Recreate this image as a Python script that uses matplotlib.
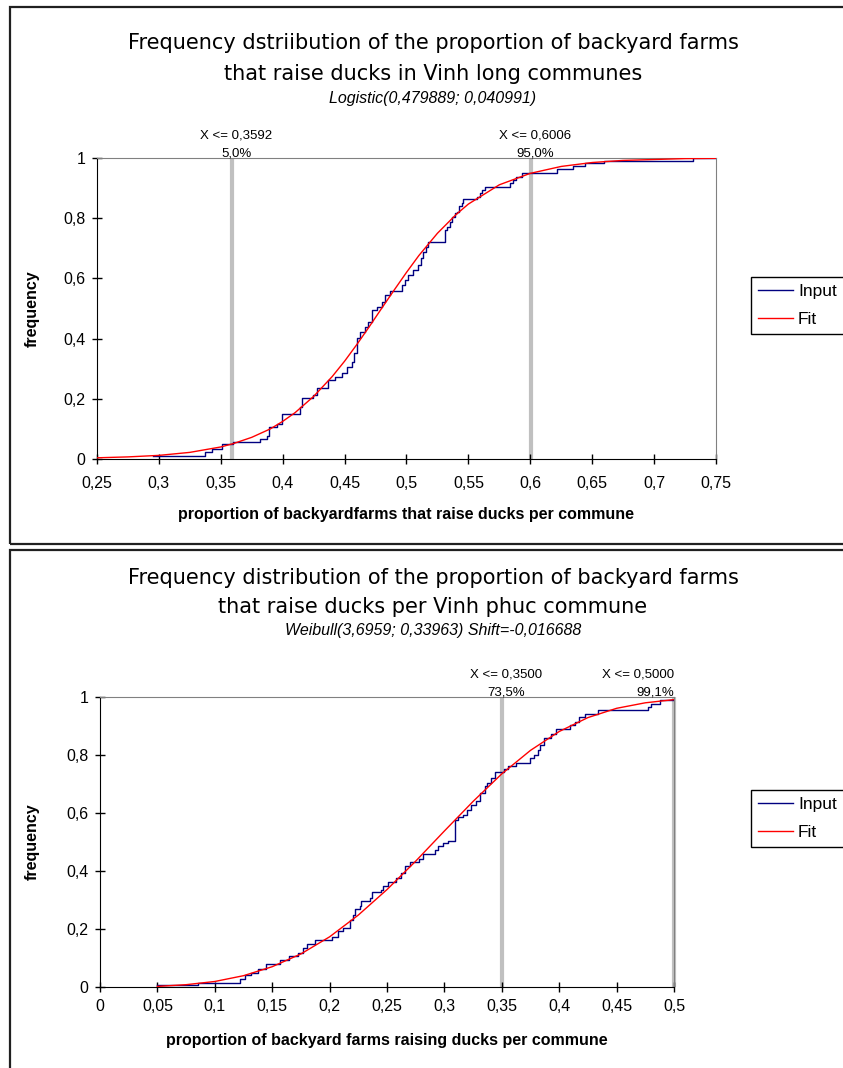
import matplotlib.pyplot as plt
from matplotlib.ticker import FuncFormatter, MultipleLocator
from matplotlib.patches import Rectangle

plt.rcParams['font.family'] = ['Liberation Sans', 'DejaVu Sans']

# ---- Vinh long: input ECDF (x where the step happens, y after the step)
vl_input_x = [0.2955, 0.3372, 0.3426, 0.3507, 0.3601, 0.3817, 0.3871, 0.3890, 0.3952, 0.3992,
              0.4140, 0.4153, 0.4247, 0.4274, 0.4368, 0.4422, 0.4477, 0.4517, 0.4557, 0.4576,
              0.4598, 0.4624, 0.4665, 0.4691, 0.4719, 0.4759, 0.4800, 0.4826, 0.4867, 0.4961,
              0.4988, 0.5015, 0.5055, 0.5095, 0.5115, 0.5136, 0.5158, 0.5176, 0.5311, 0.5325,
              0.5351, 0.5365, 0.5392, 0.5405, 0.5424, 0.5446, 0.5459, 0.5572, 0.5594, 0.5607,
              0.5634, 0.5836, 0.5863, 0.5884, 0.5931, 0.6213, 0.6348, 0.6442, 0.6595, 0.7317,
              0.7500]
vl_input_y = [0.010, 0.024, 0.033, 0.049, 0.057, 0.066, 0.077, 0.107, 0.116, 0.150,
              0.174, 0.204, 0.213, 0.237, 0.262, 0.273, 0.285, 0.307, 0.321, 0.351,
              0.401, 0.423, 0.440, 0.456, 0.495, 0.506, 0.523, 0.545, 0.559, 0.578,
              0.595, 0.611, 0.628, 0.645, 0.667, 0.689, 0.705, 0.722, 0.761, 0.772,
              0.788, 0.805, 0.816, 0.822, 0.839, 0.849, 0.863, 0.871, 0.883, 0.894,
              0.905, 0.916, 0.927, 0.938, 0.949, 0.963, 0.973, 0.984, 0.989, 1.000,
              1.000]
# fitted Logistic curve
vl_fit_x = [0.25, 0.275, 0.30, 0.325, 0.35, 0.36, 0.375, 0.39, 0.40, 0.41, 0.425, 0.44,
            0.45, 0.46, 0.47, 0.48, 0.49, 0.50, 0.51, 0.525, 0.54, 0.55, 0.575, 0.60,
            0.625, 0.65, 0.675, 0.70, 0.725, 0.75]
vl_fit_y = [0.004, 0.007, 0.012, 0.022, 0.040, 0.051, 0.072, 0.100, 0.125, 0.154, 0.208, 0.274,
            0.325, 0.381, 0.440, 0.501, 0.561, 0.620, 0.676, 0.750, 0.812, 0.847, 0.911, 0.949,
            0.972, 0.985, 0.992, 0.995, 0.998, 0.999]
vl_quant_x = [0.3592, 0.6006]
vl_quant_lbl = ['X <= 0,3592', 'X <= 0,6006']
vl_quant_pct = ['5,0%', '95,0%']

# ---- Vinh phuc
vp_input_x = [0.0500, 0.0855, 0.1223, 0.1260, 0.1319, 0.1376, 0.1443, 0.1565, 0.1646, 0.1725,
              0.1768, 0.1803, 0.1870, 0.2024, 0.2073, 0.2117, 0.2175, 0.2204, 0.2219, 0.2262,
              0.2277, 0.2349, 0.2373, 0.2451, 0.2465, 0.2509, 0.2582, 0.2625, 0.2654, 0.2698,
              0.2779, 0.2814, 0.2915, 0.2944, 0.2988, 0.3031, 0.3090, 0.3119, 0.3160, 0.3197,
              0.3235, 0.3279, 0.3307, 0.3351, 0.3371, 0.3409, 0.3438, 0.3517, 0.3554, 0.3627,
              0.3749, 0.3778, 0.3815, 0.3836, 0.3865, 0.3932, 0.3970, 0.4091, 0.4135, 0.4172,
              0.4222, 0.4338, 0.4774, 0.4803, 0.4876, 0.5000]
vp_input_y = [0.008, 0.014, 0.028, 0.041, 0.048, 0.062, 0.079, 0.094, 0.106, 0.117,
              0.134, 0.149, 0.161, 0.174, 0.192, 0.203, 0.232, 0.249, 0.269, 0.280,
              0.295, 0.307, 0.326, 0.333, 0.349, 0.361, 0.376, 0.393, 0.416, 0.430,
              0.441, 0.459, 0.473, 0.485, 0.497, 0.502, 0.577, 0.585, 0.594, 0.611,
              0.629, 0.640, 0.669, 0.692, 0.703, 0.721, 0.743, 0.752, 0.763, 0.774,
              0.789, 0.801, 0.818, 0.835, 0.858, 0.873, 0.889, 0.904, 0.915, 0.932,
              0.942, 0.956, 0.967, 0.976, 0.988, 0.990]
# fitted Weibull curve
vp_fit_x = [0.05, 0.075, 0.10, 0.125, 0.15, 0.175, 0.20, 0.225, 0.25, 0.275, 0.30, 0.325,
            0.35, 0.375, 0.40, 0.425, 0.45, 0.475, 0.50]
vp_fit_y = [0.002, 0.008, 0.019, 0.039, 0.070, 0.114, 0.173, 0.248, 0.336, 0.434, 0.538, 0.640,
            0.735, 0.816, 0.881, 0.929, 0.961, 0.980, 0.991]
vp_quant_x = [0.35, 0.50]
vp_quant_lbl = ['X <= 0,3500', 'X <= 0,5000']
vp_quant_pct = ['73,5%', '99,1%']

W, H = 843, 1068
fig = plt.figure(figsize=(W / 100, H / 100), dpi=100)


def fx(x):
    return x / W


def fy(y):
    return 1 - y / H


def comma(v, pos):
    return ('%g' % round(v, 4)).replace('.', ',')


def panel(box, xin, yin, xfit, yfit, qx, qlbl, qpct, qha, xlim, xlabel,
          titles, title_y, leg_y, xpad, xlab_y):
    left, top, right, bottom = box
    ax = fig.add_axes([fx(left), fy(bottom), fx(right - left), (bottom - top) / H])

    # percentile markers
    for q, lbl, pct, ha in zip(qx, qlbl, qpct, qha):
        ax.plot([q, q], [0, 1], color='#c0c0c0', lw=3, zorder=1, solid_capstyle='butt', clip_on=False)
        dx = 3 if ha == 'center' else 0
        ax.annotate(lbl, (q, 1), xytext=(dx, 16.5), textcoords='offset points',
                    ha=ha, va='center', fontsize=9.5)
        ax.annotate(pct, (q, 1), xytext=(dx, 3.5), textcoords='offset points',
                    ha=ha, va='center', fontsize=9.5)

    h1, = ax.plot(xin, yin, drawstyle='steps-post', color='#000080', lw=1, zorder=3, label='Input')
    h2, = ax.plot(xfit, yfit, color='#ff0000', lw=1, zorder=4, label='Fit')

    ax.set_xlim(xlim)
    ax.set_ylim(0, 1)
    ax.xaxis.set_major_locator(MultipleLocator(0.05))
    ax.yaxis.set_major_locator(MultipleLocator(0.2))
    ax.xaxis.set_major_formatter(FuncFormatter(comma))
    ax.yaxis.set_major_formatter(FuncFormatter(comma))
    ax.tick_params(direction='inout', length=7, width=1, labelsize=11.5)
    ax.tick_params(axis='x', pad=xpad)
    ax.tick_params(axis='y', pad=5)
    for s in ['top', 'right']:
        ax.spines[s].set_color('#808080')
    for s in ['left', 'bottom']:
        ax.spines[s].set_color('black')

    ax.set_ylabel('frequency', fontweight='bold', fontsize=11.5)
    ax.yaxis.set_label_coords((40 - left) / (right - left), 0.5)
    ax.set_xlabel(xlabel, fontweight='bold', fontsize=11.5)
    ax.xaxis.set_label_coords(0.5, (bottom - xlab_y) / (bottom - top))
    ax.xaxis.label.set_va('center')

    # titles
    fig.text(fx(433), fy(title_y[0]), titles[0], ha='center', va='center', fontsize=15,
             family='DejaVu Sans')
    fig.text(fx(433), fy(title_y[1]), titles[1], ha='center', va='center', fontsize=15,
             family='DejaVu Sans')
    fig.text(fx(433), fy(title_y[2]), titles[2], ha='center', va='center', fontsize=11.5,
             style='italic')

    # legend box runs past the right edge of the figure, as in the original
    leg = fig.legend([h1, h2], ['Input', 'Fit'], loc='upper left', mode='expand',
                     bbox_to_anchor=(fx(751), fy(leg_y), 0.13, 0), borderaxespad=0,
                     fontsize=12.5, fancybox=False, edgecolor='black', framealpha=1,
                     handlelength=2.0, handletextpad=0.3, labelspacing=0.75, borderpad=0.4)
    leg.get_frame().set_linewidth(1.0)
    return ax


panel((97, 158, 716, 459), vl_input_x, vl_input_y, vl_fit_x, vl_fit_y,
      vl_quant_x, vl_quant_lbl, vl_quant_pct, ['center', 'center'], (0.25, 0.75),
      'proportion of backyardfarms that raise ducks per commune',
      ['Frequency dstriibution of the proportion of backyard farms',
       'that raise ducks in Vinh long communes',
       'Logistic(0,479889; 0,040991)'],
      (43, 74, 98), 277, 9, 515)

panel((100, 697, 674, 987), vp_input_x, vp_input_y, vp_fit_x, vp_fit_y,
      vp_quant_x, vp_quant_lbl, vp_quant_pct, ['center', 'right'], (0, 0.5),
      'proportion of backyard farms raising ducks per commune',
      ['Frequency distribution of the proportion of backyard farms',
       'that raise ducks per Vinh phuc commune',
       'Weibull(3,6959; 0,33963) Shift=-0,016688'],
      (578, 607, 630), 790, 5, 1040)

# panel frames
fig.add_artist(Rectangle((fx(10), fy(544)), 1, (544 - 7) / H, transform=fig.transFigure,
                         fill=False, ec='#202020', lw=1.6))
fig.add_artist(Rectangle((fx(10), -0.1), 1, fy(550) + 0.1, transform=fig.transFigure,
                         fill=False, ec='#202020', lw=1.6))

fig.savefig('out.png', dpi=100)
